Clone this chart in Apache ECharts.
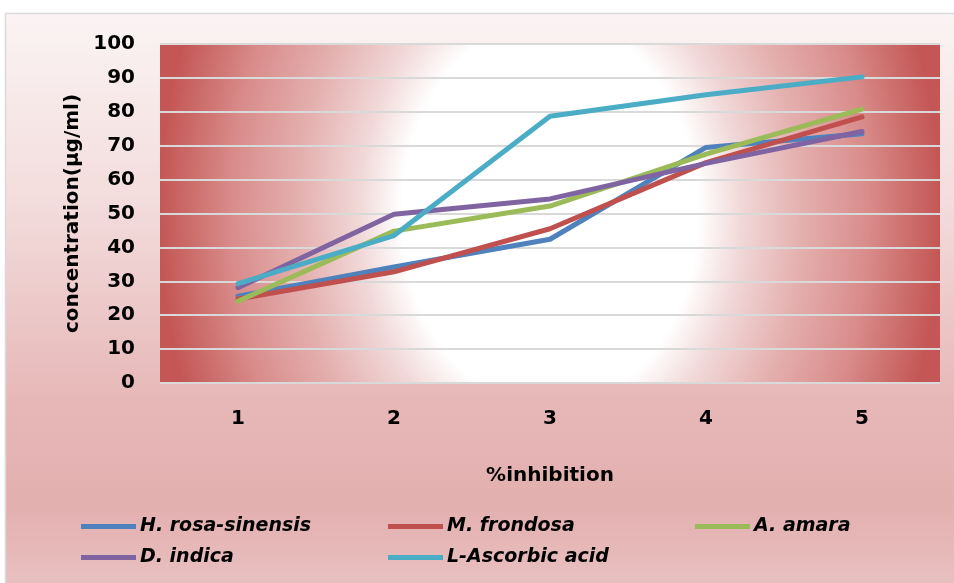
<!DOCTYPE html>
<html>
<head>
<meta charset="utf-8">
<title>Concentration vs %inhibition</title>
<script src="https://cdn.jsdelivr.net/npm/echarts@6/dist/echarts.min.js"></script>
<style>
  html, body { margin: 0; padding: 0; background: #ffffff; }
  #chart { width: 954px; height: 583px; }
</style>
</head>
<body>
<div id="chart"></div>
<script>
// Inhibition steps on the x axis
const categories = ['1', '2', '3', '4', '5'];

// Concentration (µg/ml) for each extract
const hRosaSinensis = [25.6, 34.2, 42.4, 69.5, 73.5];
const mFrondosa     = [24.8, 32.8, 45.5, 65.0, 78.5];
const aAmara        = [24.1, 44.8, 52.2, 67.5, 80.8];
const dIndica       = [28.1, 49.8, 54.3, 64.8, 74.2];
const lAscorbicAcid = [29.3, 43.5, 78.7, 85.0, 90.3];

const seriesNames = ['H. rosa-sinensis', 'M. frondosa', 'A. amara', 'D. indica', 'L-Ascorbic acid'];
const seriesData  = [hRosaSinensis, mFrondosa, aAmara, dIndica, lAscorbicAcid];
const seriesColors = ['#4f81bd', '#c0504d', '#9bbb59', '#8064a2', '#4bacc6'];

const FONT = 'DejaVu Sans';

// Plot box in pixels
const PLOT = { left: 160, top: 44, right: 940, bottom: 383 };

const chart = echarts.init(document.getElementById('chart'), null, { renderer: 'canvas' });

// One legend block per entry so the entries sit in fixed columns
const legendSlots = [
  { left: 81,  top: 517 },
  { left: 388, top: 517 },
  { left: 695, top: 517 },
  { left: 81,  top: 548 },
  { left: 388, top: 548 }
];
const legends = seriesNames.map((name, i) => ({
  data: [name],
  left: legendSlots[i].left,
  top: legendSlots[i].top,
  padding: 0,
  icon: 'rect',
  itemWidth: 55,
  itemHeight: 5,
  selectedMode: false,
  textStyle: {
    fontFamily: FONT,
    fontSize: 19,
    fontWeight: 'bold',
    fontStyle: 'italic',
    color: '#000000',
    padding: [0, 0, 0, -1]
  }
}));

// Plot fill: an elliptical radial gradient (white centre, red sides).
// The rect is drawn squashed in local space and stretched vertically.
const plotW = PLOT.right - PLOT.left;
const plotH = PLOT.bottom - PLOT.top;
const STRETCH = 1.3;
const localH = plotH / STRETCH;
const plotFill = {
  type: 'rect',
  z: -50,
  silent: true,
  x: (PLOT.left + PLOT.right) / 2,
  y: (PLOT.top + PLOT.bottom) / 2,
  scaleY: STRETCH,
  shape: { x: -plotW / 2, y: -localH / 2, width: plotW, height: localH },
  style: {
    fill: {
      type: 'radial', x: 0.5, y: 0.5, r: (plotW / 2) / localH,
      colorStops: [
        { offset: 0.00, color: '#ffffff' },
        { offset: 0.38, color: '#ffffff' },
        { offset: 0.49, color: '#f1d8d8' },
        { offset: 0.64, color: '#e4b1b0' },
        { offset: 0.82, color: '#d88b8a' },
        { offset: 0.92, color: '#cc6e6c' },
        { offset: 1.00, color: '#c45755' }
      ]
    }
  }
};

const option = {
  animation: false,
  backgroundColor: '#ffffff',
  color: seriesColors,
  graphic: [{
    type: 'rect',
    z: -100,
    silent: true,
    shape: { x: 5.5, y: 13.5, width: 970, height: 590 },
    style: {
      fill: {
        type: 'linear', x: 0, y: 0, x2: 0, y2: 1,
        colorStops: [
          { offset: 0.00, color: '#fbf4f4' },
          { offset: 0.32, color: '#f3dcdc' },
          { offset: 0.65, color: '#e7b8b8' },
          { offset: 0.83, color: '#e3afaf' },
          { offset: 1.00, color: '#eac4c4' }
        ]
      },
      stroke: '#d9d9d9',
      lineWidth: 1.5
    }
  }, plotFill],
  grid: {
    left: PLOT.left,
    right: 954 - PLOT.right,
    top: PLOT.top,
    bottom: 583 - PLOT.bottom,
    show: false
  },
  legend: legends,
  xAxis: {
    type: 'category',
    data: categories,
    boundaryGap: true,
    axisLine: { show: false },
    axisTick: { show: false },
    axisLabel: {
      margin: 26,
      fontFamily: FONT,
      fontSize: 20,
      fontWeight: 'bold',
      color: '#000000'
    },
    name: '%inhibition',
    nameLocation: 'middle',
    nameGap: 83,
    nameTextStyle: {
      fontFamily: FONT,
      fontSize: 20,
      fontWeight: 'bold',
      color: '#000000'
    }
  },
  yAxis: {
    type: 'value',
    min: 0,
    max: 100,
    interval: 10,
    axisLine: { show: false },
    axisTick: { show: false },
    splitLine: { lineStyle: { color: '#d9d9d9', width: 2 } },
    axisLabel: {
      margin: 25,
      fontFamily: FONT,
      fontSize: 20,
      fontWeight: 'bold',
      color: '#000000'
    },
    name: 'concentration(µg/ml)',
    nameLocation: 'middle',
    nameGap: 77,
    nameRotate: 90,
    nameTextStyle: {
      fontFamily: FONT,
      fontSize: 20,
      fontWeight: 'bold',
      color: '#000000'
    }
  },
  series: seriesNames.map((name, i) => ({
    name: name,
    type: 'line',
    data: seriesData[i],
    symbol: 'none',
    showSymbol: false,
    lineStyle: { width: 5, color: seriesColors[i], cap: 'round', join: 'round' },
    itemStyle: { color: seriesColors[i] },
    emphasis: { disabled: true }
  }))
};

chart.setOption(option);
</script>
</body>
</html>
